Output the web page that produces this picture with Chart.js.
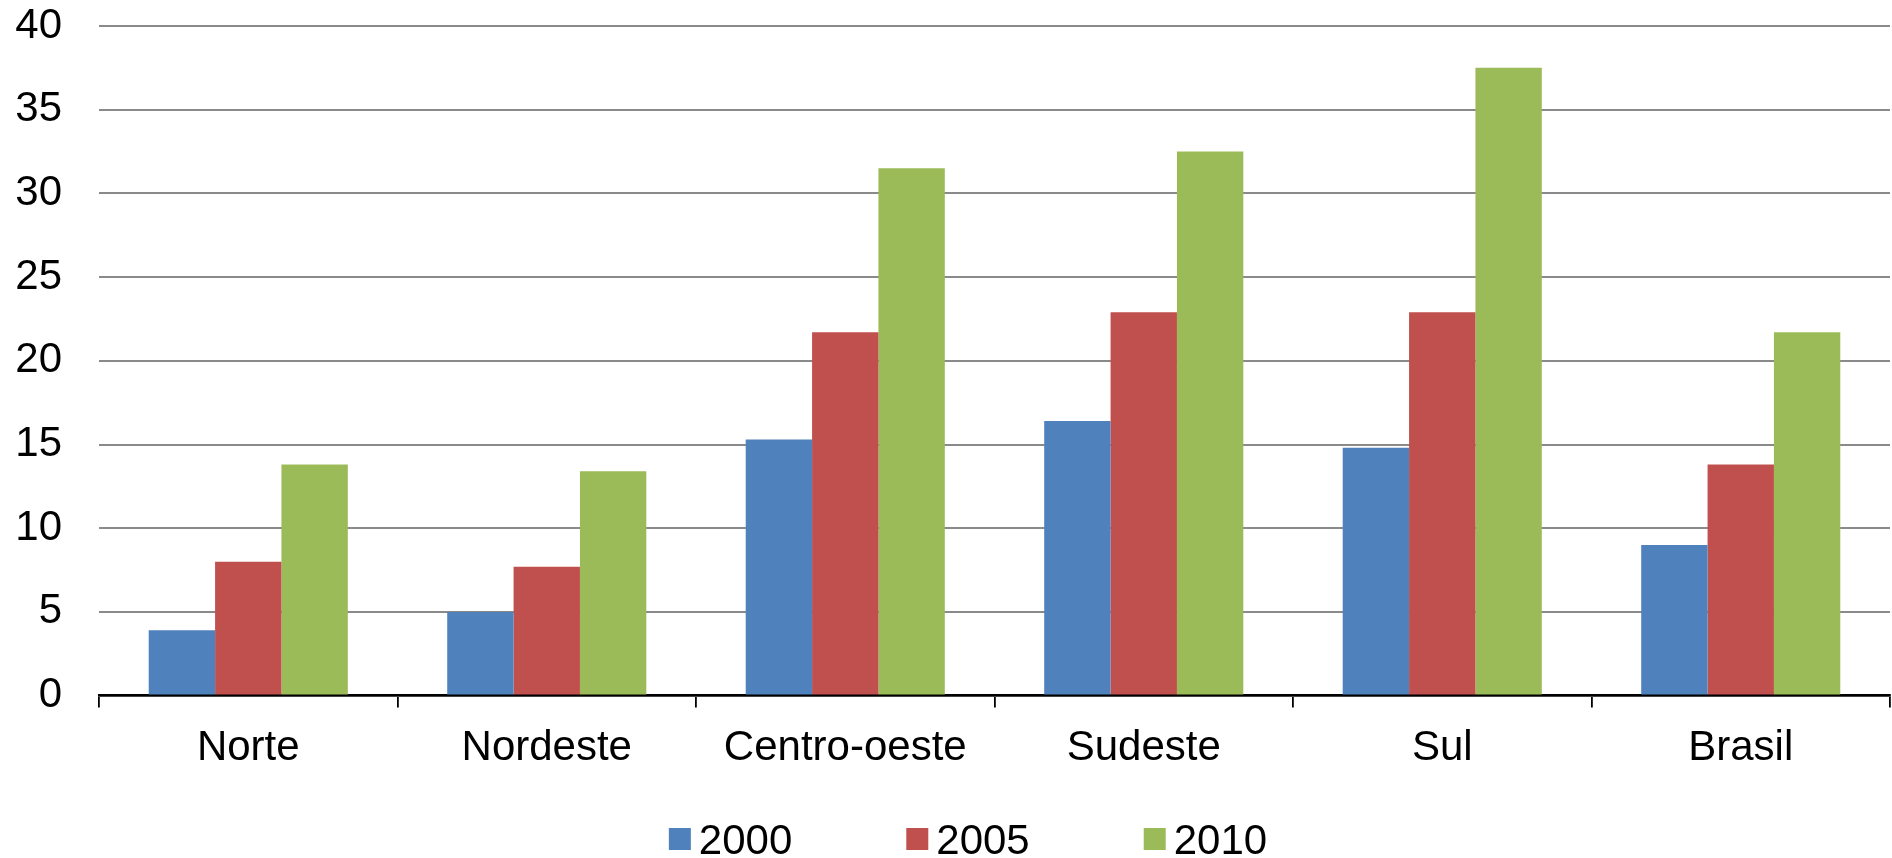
<!DOCTYPE html>
<html>
<head>
<meta charset="utf-8">
<script src="https://cdn.jsdelivr.net/npm/chart.js@4/dist/chart.umd.min.js"></script>
<style>
  html, body { margin: 0; padding: 0; background: #ffffff; }
  #wrap { width: 1892px; height: 858px; position: relative; }
</style>
</head>
<body>
<div id="wrap"><canvas id="chart" width="1892" height="858"></canvas></div>
<script>
// Regions and years
const categories = ['Norte', 'Nordeste', 'Centro-oeste', 'Sudeste', 'Sul', 'Brasil'];
const seriesNames = ['2000', '2005', '2010'];
const values2000 = [3.9, 5.0, 15.3, 16.4, 14.8, 9.0];
const values2005 = [8.0, 7.7, 21.7, 22.9, 22.9, 13.8];
const values2010 = [13.8, 13.4, 31.5, 32.5, 37.5, 21.7];
const yTicks = [0, 5, 10, 15, 20, 25, 30, 35, 40];

const colors = ['#4F81BD', '#C0504D', '#9BBB59'];
const FONT = '"Liberation Sans", Arial, sans-serif';
const FONT_SIZE = 42;

// Legend under the axis labels: colour square followed by the year
const bottomLegend = {
  id: 'bottomLegend',
  afterDraw(chart) {
    const ctx = chart.ctx;
    const box = 22, gap = 8, spacing = 114;
    ctx.save();
    ctx.font = FONT_SIZE + 'px ' + FONT;
    ctx.textBaseline = 'alphabetic';
    ctx.textAlign = 'left';
    const items = chart.data.datasets.map(ds => ({
      text: ds.label, color: ds.backgroundColor, w: box + gap + ctx.measureText(ds.label).width
    }));
    const total = items.reduce((s, it) => s + it.w, 0) + spacing * (items.length - 1);
    let x = chart.width / 2 + 22 - total / 2;
    const cy = chart.height - 19;
    items.forEach(it => {
      ctx.fillStyle = it.color;
      ctx.fillRect(x, cy - box / 2, box, box);
      ctx.fillStyle = '#000000';
      ctx.fillText(it.text, x + box + gap, cy + 14.5);
      x += it.w + spacing;
    });
    ctx.restore();
  }
};

const values = [values2000, values2005, values2010];

new Chart(document.getElementById('chart'), {
  type: 'bar',
  data: {
    labels: categories,
    datasets: seriesNames.map((name, i) => ({
      label: name,
      data: values[i],
      backgroundColor: colors[i],
      borderWidth: 0,
      categoryPercentage: 0.667,
      barPercentage: 1.0
    }))
  },
  options: {
    responsive: false,
    animation: false,
    events: [],
    // the y axis reserves its label gap on both sides; the negative left
    // padding takes back the unused outer half
    layout: { padding: { left: -21.7, right: 2, top: 26, bottom: 68 } },
    plugins: {
      legend: { display: false },
      tooltip: { enabled: false }
    },
    scales: {
      x: {
        offset: true,
        grid: {
          display: true,
          offset: true,
          drawOnChartArea: false,
          drawTicks: true,
          tickLength: 12,
          color: '#000000',
          lineWidth: 1.8
        },
        border: { display: true, color: '#000000', width: 2.5 },
        ticks: {
          color: '#000000',
          font: { family: FONT, size: FONT_SIZE },
          padding: 16,
          maxRotation: 0,
          autoSkip: false
        }
      },
      y: {
        min: 0,
        max: 40,
        afterBuildTicks(scale) { scale.ticks = yTicks.map(v => ({ value: v })); },
        // only half a label height is needed above the top gridline
        afterFit(scale) { scale.paddingTop = 25; scale.paddingBottom = 25; },
        grid: {
          color: '#8a8a8a',
          lineWidth: 2,
          drawTicks: false
        },
        border: { display: false },
        ticks: {
          color: '#000000',
          font: { family: FONT, size: FONT_SIZE },
          padding: 37
        }
      }
    }
  },
  plugins: [bottomLegend]
});
</script>
</body>
</html>
